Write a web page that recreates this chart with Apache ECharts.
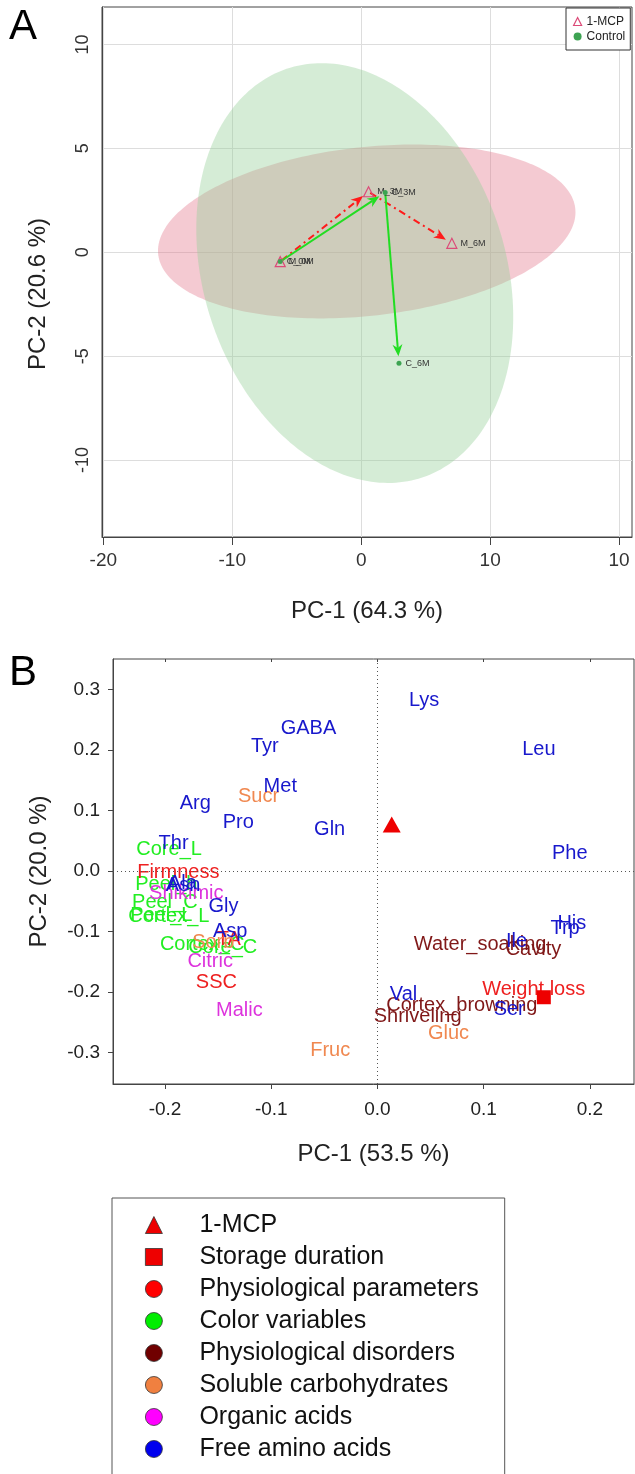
<!DOCTYPE html>
<html><head><meta charset="utf-8">
<script src="https://cdn.jsdelivr.net/npm/echarts@6/dist/echarts.min.js"></script>
<style>html,body{margin:0;padding:0;background:#fff}#c{width:635px;height:1474px}</style>
</head><body><div id="c"></div>
<script>
const FONT = "'Liberation Sans', Arial, Helvetica, sans-serif";

// ---------- Panel A: PCA scores ----------
const mcpNames = ['M_0M', 'M_3M', 'M_6M'];
const mcpPC1 = [-6.28, 0.57, 7.03];
const mcpPC2 = [-0.45, 2.91, 0.43];
const ctrlNames = ['C_0M', 'C_3M', 'C_6M'];
const ctrlPC1 = [-6.28, 1.86, 2.93];
const ctrlPC2 = [-0.45, 2.88, -5.34];

// confidence ellipses (mean and covariance in PC units)
const ellGroups = ['1-MCP', 'Control'];
const ellMeanPC1 = [0.43, -0.5];
const ellMeanPC2 = [1.0, -1.0];
const ellVarPC1 = [262, 151];
const ellVarPC2 = [17.5, 102];
const ellCov = [15, -26];

const aXTicks = [-20, -10, 0, 10, 20];
const aXTickLabels = ['-20', '-10', '0', '10', '10'];
const aYTicks = [-10, -5, 0, 5, 10];
const aYTickLabels = ['-10', '-5', '0', '5', '10'];

// ---------- Panel B: PCA loadings ----------
const bXTicks = [-0.2, -0.1, 0, 0.1, 0.2];
const bXTickLabels = ['-0.2', '-0.1', '0.0', '0.1', '0.2'];
const bYTicks = [-0.3, -0.2, -0.1, 0, 0.1, 0.2, 0.3];
const bYTickLabels = ['-0.3', '-0.2', '-0.1', '0.0', '0.1', '0.2', '0.3'];

const treatPC1 = [0.0134]; const treatPC2 = [0.0767];
const storagePC1 = [0.1566]; const storagePC2 = [-0.2087];

const physNames = ['Firmness', 'TA', 'SSC', 'Weight loss'];
const physPC1 = [-0.1875, -0.140, -0.1517, 0.1471];
const physPC2 = [-0.0033, -0.114, -0.185, -0.1964];

const colorNames = ['Core_L', 'Peel_h', 'Peel_C', 'Peel_L', 'Cortex_L', 'Cortex_C', 'Core_C'];
const colorPC1 = [-0.1962, -0.1988, -0.2002, -0.2035, -0.1964, -0.1651, -0.1456];
const colorPC2 = [0.0358, -0.0231, -0.0528, -0.0730, -0.0759, -0.122, -0.127];

const disordNames = ['Water_soaking', 'Cavity', 'Cortex_browning', 'Shriveling'];
const disordPC1 = [0.0966, 0.1468, 0.0794, 0.0378];
const disordPC2 = [-0.122, -0.1304, -0.2228, -0.2404];

const carbNames = ['Sucr', 'Fruc', 'Gluc', 'Sorb'];
const carbPC1 = [-0.112, -0.0445, 0.0668, -0.1546];
const carbPC2 = [0.1226, -0.2965, -0.269, -0.119];

const acidNames = ['Shikimic', 'Citric', 'Malic'];
const acidPC1 = [-0.180, -0.1575, -0.130];
const acidPC2 = [-0.0365, -0.1497, -0.2305];

const aminoNames = ['Lys', 'Leu', 'Phe', 'GABA', 'Tyr', 'Met', 'Arg', 'Pro', 'Gln', 'Thr', 'Ala', 'Asn', 'Gly', 'Asp', 'Val', 'Ser', 'Ile', 'His', 'Trp'];
const aminoPC1 = [0.0439, 0.152, 0.181, -0.065, -0.106, -0.0915, -0.1715, -0.131, -0.045, -0.192, -0.1837, -0.1830, -0.145, -0.1386, 0.0245, 0.124, 0.131, 0.183, 0.1766];
const aminoPC2 = [0.282, 0.200, 0.029, 0.235, 0.205, 0.139, 0.112, 0.080, 0.068, 0.046, -0.020, -0.024, -0.059, -0.100, -0.2046, -0.229, -0.1167, -0.0863, -0.0946];

const legendBNames = ['1-MCP', 'Storage duration', 'Physiological parameters', 'Color variables', 'Physiological disorders', 'Soluble carbohydrates', 'Organic acids', 'Free amino acids'];

// ---------- helpers ----------
function tickFmt(ticks, labels) {
  return v => { for (let i = 0; i < ticks.length; i++) if (Math.abs(ticks[i] - v) < 1e-9) return labels[i]; return ''; };
}
function pts(x, y, n) { return x.map((v, i) => [v, y[i], n ? n[i] : '']); }
function segs(x, y) { const out = []; for (let i = 0; i < x.length - 1; i++) out.push([x[i], y[i], x[i + 1], y[i + 1]]); return out; }

function ellipseSeries(i, fill, z) {
  return {
    type: 'custom', xAxisIndex: 0, yAxisIndex: 0, z, silent: true,
    data: [[ellMeanPC1[i], ellMeanPC2[i], ellVarPC1[i], ellVarPC2[i], ellCov[i]]],
    renderItem(params, api) {
      const cx = api.value(0), cy = api.value(1), sxx = api.value(2), syy = api.value(3), sxy = api.value(4);
      const a = Math.sqrt(sxx), b = sxy / a, c = Math.sqrt(syy - b * b);
      const p = [];
      for (let k = 0; k < 240; k++) {
        const t = k / 240 * 2 * Math.PI;
        p.push(api.coord([cx + a * Math.cos(t), cy + b * Math.cos(t) + c * Math.sin(t)]));
      }
      return { type: 'polygon', shape: { points: p }, style: { fill } };
    }
  };
}

function arrowSeries(data, color, dash, z) {
  return {
    type: 'custom', xAxisIndex: 0, yAxisIndex: 0, z, silent: true, data,
    renderItem(params, api) {
      const p1 = api.coord([api.value(0), api.value(1)]);
      const p2 = api.coord([api.value(2), api.value(3)]);
      const dx = p2[0] - p1[0], dy = p2[1] - p1[1], L = Math.hypot(dx, dy);
      const ux = dx / L, uy = dy / L;
      const tip = [p2[0] - ux * 7, p2[1] - uy * 7];
      const hl = 12, hw = 5;
      const base = [tip[0] - ux * hl, tip[1] - uy * hl];
      const left = [base[0] - uy * hw, base[1] + ux * hw];
      const right = [base[0] + uy * hw, base[1] - ux * hw];
      const notch = [tip[0] - ux * hl * 0.7, tip[1] - uy * hl * 0.7];
      return {
        type: 'group', children: [
          { type: 'line', shape: { x1: p1[0] + ux * 2, y1: p1[1] + uy * 2, x2: notch[0], y2: notch[1] }, style: { stroke: color, lineWidth: 2, lineDash: dash } },
          { type: 'polygon', shape: { points: [tip, left, notch, right] }, style: { fill: color } }
        ]
      };
    }
  };
}

function textSeries(name, n, x, y, color, z) {
  return {
    name, type: 'scatter', xAxisIndex: 1, yAxisIndex: 1, z, symbolSize: 1, silent: true,
    itemStyle: { color: 'rgba(0,0,0,0)', opacity: 1 },
    label: { show: true, position: 'inside', formatter: p => p.value[2], color, opacity: 1, fontSize: 20, fontFamily: FONT },
    emphasis: { disabled: true },
    data: pts(x, y, n)
  };
}

const chart = echarts.init(document.getElementById('c'), null, { renderer: 'canvas' });

const axisNameStyle = { fontSize: 24, color: '#222', fontFamily: FONT };

chart.setOption({
  animation: false,
  backgroundColor: '#fff',
  title: [
    { text: 'A', left: 9, top: 6, padding: 0, textStyle: { fontSize: 42, fontWeight: 'normal', color: '#000', fontFamily: FONT } },
    { text: 'B', left: 9, top: 652, padding: 0, textStyle: { fontSize: 42, fontWeight: 'normal', color: '#000', fontFamily: FONT } }
  ],
  grid: [
    { left: 102, top: 7, right: 3, height: 530, show: true, borderColor: '#444', borderWidth: 1, backgroundColor: 'transparent' },
    { left: 113, top: 659, right: 1, height: 425, show: true, borderColor: '#444', borderWidth: 1, backgroundColor: 'transparent' }
  ],
  xAxis: [
    {
      gridIndex: 0, type: 'value', min: -20.1, max: 21,
      axisLine: { show: true, onZero: false, lineStyle: { color: '#444' } },
      axisTick: { show: true, length: 8, customValues: aXTicks, lineStyle: { color: '#444' } },
      axisLabel: { customValues: aXTicks, formatter: tickFmt(aXTicks, aXTickLabels), fontSize: 19, color: '#333', margin: 14, fontFamily: FONT },
      splitLine: { show: true, lineStyle: { color: '#DDDDDD', width: 1 } },
      name: 'PC-1 (64.3 %)', nameLocation: 'middle', nameGap: 62, nameTextStyle: axisNameStyle
    },
    {
      gridIndex: 1, type: 'value', min: -0.249, max: 0.2415,
      axisLine: { show: true, onZero: false, lineStyle: { color: '#444' } },
      axisTick: { show: true, length: 5, customValues: bXTicks, lineStyle: { color: '#444' } },
      axisLabel: { customValues: bXTicks, formatter: tickFmt(bXTicks, bXTickLabels), fontSize: 19, color: '#222', margin: 16, fontFamily: FONT },
      splitLine: { show: false },
      name: 'PC-1 (53.5 %)', nameLocation: 'middle', nameGap: 58, nameTextStyle: axisNameStyle
    },
    {
      gridIndex: 1, type: 'value', min: -0.249, max: 0.2415, position: 'top',
      axisLine: { show: false, onZero: false },
      axisTick: { show: true, inside: true, length: 3, customValues: bXTicks, lineStyle: { color: '#444' } },
      axisLabel: { show: false }, splitLine: { show: false }
    }
  ],
  yAxis: [
    {
      gridIndex: 0, type: 'value', min: -13.7, max: 11.8,
      axisLine: { show: true, onZero: false, lineStyle: { color: '#444' } },
      axisTick: { show: false, customValues: aYTicks },
      axisLabel: { customValues: aYTicks, formatter: tickFmt(aYTicks, aYTickLabels), rotate: 90, fontSize: 18, color: '#333', margin: 10, fontFamily: FONT },
      splitLine: { show: true, lineStyle: { color: '#DDDDDD', width: 1 } },
      name: 'PC-2 (20.6 %)', nameLocation: 'middle', nameGap: 52, nameRotate: 90,
      nameTextStyle: Object.assign({ padding: [0, 44, 0, 0] }, axisNameStyle)
    },
    {
      gridIndex: 1, type: 'value', min: -0.352, max: 0.35,
      axisLine: { show: true, onZero: false, lineStyle: { color: '#444' } },
      axisTick: { show: true, length: 5, customValues: bYTicks, lineStyle: { color: '#444' } },
      axisLabel: { customValues: bYTicks, formatter: tickFmt(bYTicks, bYTickLabels), fontSize: 19, color: '#222', margin: 13, fontFamily: FONT },
      splitLine: { show: false },
      name: 'PC-2 (20.0 %)', nameLocation: 'middle', nameGap: 62, nameRotate: 90, nameTextStyle: axisNameStyle
    }
  ],
  legend: [
    {
      left: 566, top: 8, orient: 'vertical', selectedMode: false,
      padding: [7, 5, 7, 7], itemGap: 2, itemWidth: 8, itemHeight: 8,
      borderColor: '#333', borderWidth: 1, backgroundColor: '#fff',
      textStyle: { fontSize: 12, color: '#222', fontFamily: FONT, lineHeight: 13 },
      data: [
        { name: '1-MCP', icon: 'triangle', itemStyle: { color: 'rgba(0,0,0,0)', borderColor: '#DC4A78', borderWidth: 1.2, opacity: 1 } },
        { name: 'Control', icon: 'circle', itemStyle: { color: '#3DA352', borderWidth: 0, opacity: 1 } }
      ]
    },
    {
      left: 112, top: 1198, height: 270, orient: 'vertical', selectedMode: false,
      padding: [13, 26, 40, 33], itemGap: 4, itemWidth: 17, itemHeight: 17,
      borderColor: '#555', borderWidth: 1,
      formatter: '{s| }{name}',
      textStyle: { fontSize: 25, color: '#111', fontFamily: FONT, lineHeight: 28, rich: { s: { width: 32, fontSize: 25 } } },
      data: [
        { name: legendBNames[0], icon: 'triangle', itemStyle: { color: '#EE0000', borderColor: '#333', borderWidth: 0.8, opacity: 1 } },
        { name: legendBNames[1], icon: 'rect', itemStyle: { color: '#EE0000', borderColor: '#333', borderWidth: 0.8, opacity: 1 } },
        { name: legendBNames[2], icon: 'circle', itemStyle: { color: '#FF0000', borderColor: '#333', borderWidth: 0.8, opacity: 1 } },
        { name: legendBNames[3], icon: 'circle', itemStyle: { color: '#00EE00', borderColor: '#333', borderWidth: 0.8, opacity: 1 } },
        { name: legendBNames[4], icon: 'circle', itemStyle: { color: '#700000', borderColor: '#333', borderWidth: 0.8, opacity: 1 } },
        { name: legendBNames[5], icon: 'circle', itemStyle: { color: '#F08040', borderColor: '#333', borderWidth: 0.8, opacity: 1 } },
        { name: legendBNames[6], icon: 'circle', itemStyle: { color: '#FF00FF', borderColor: '#333', borderWidth: 0.8, opacity: 1 } },
        { name: legendBNames[7], icon: 'circle', itemStyle: { color: '#0000EE', borderColor: '#333', borderWidth: 0.8, opacity: 1 } }
      ]
    }
  ],
  series: [
    // Panel A
    ellipseSeries(0, 'rgba(225,115,137,0.38)', 1),
    ellipseSeries(1, 'rgba(150,207,152,0.40)', 2),
    arrowSeries(segs(mcpPC1, mcpPC2), '#FF1A1A', [7, 4, 2, 4], 3),
    arrowSeries(segs(ctrlPC1, ctrlPC2), '#22DD22', null, 4),
    {
      name: '1-MCP', type: 'scatter', xAxisIndex: 0, yAxisIndex: 0, z: 5, silent: true,
      symbol: 'triangle', symbolSize: 10,
      itemStyle: { color: 'rgba(0,0,0,0)', borderColor: '#DC4A78', borderWidth: 1.2, opacity: 1 },
      label: { show: true, position: 'right', distance: 3, formatter: p => p.value[2], fontSize: 9, color: '#333', fontFamily: FONT },
      data: pts(mcpPC1, mcpPC2, mcpNames)
    },
    {
      name: 'Control', type: 'scatter', xAxisIndex: 0, yAxisIndex: 0, z: 6, silent: true,
      symbol: 'circle', symbolSize: 5,
      itemStyle: { color: '#3DA352', opacity: 1 },
      label: { show: true, position: 'right', distance: 4, formatter: p => p.value[2], fontSize: 9, color: '#333', fontFamily: FONT },
      data: pts(ctrlPC1, ctrlPC2, ctrlNames)
    },
    // Panel B
    {
      type: 'scatter', xAxisIndex: 1, yAxisIndex: 1, z: 1, silent: true, data: [],
      markLine: { silent: true, symbol: ['none', 'none'], label: { show: false }, lineStyle: { type: [1, 3], color: '#555', width: 1 }, data: [{ xAxis: 0 }, { yAxis: 0 }] }
    },
    textSeries(legendBNames[3], colorNames, colorPC1, colorPC2, '#22EE22', 3),
    textSeries(legendBNames[2], physNames, physPC1, physPC2, '#EE2020', 4),
    textSeries(legendBNames[4], disordNames, disordPC1, disordPC2, '#801818', 5),
    textSeries(legendBNames[5], carbNames, carbPC1, carbPC2, '#F08850', 6),
    textSeries(legendBNames[6], acidNames, acidPC1, acidPC2, '#DD33DD', 7),
    textSeries(legendBNames[7], aminoNames, aminoPC1, aminoPC2, '#1818CC', 8),
    {
      name: legendBNames[0], type: 'scatter', xAxisIndex: 1, yAxisIndex: 1, z: 10, silent: true,
      symbol: 'triangle', symbolSize: [18, 16], itemStyle: { color: '#EE0000', opacity: 1 },
      data: pts(treatPC1, treatPC2)
    },
    {
      name: legendBNames[1], type: 'scatter', xAxisIndex: 1, yAxisIndex: 1, z: 10, silent: true,
      symbol: 'rect', symbolSize: 14, itemStyle: { color: '#EE0000', opacity: 1 },
      data: pts(storagePC1, storagePC2)
    }
  ]
});
</script></body></html>
